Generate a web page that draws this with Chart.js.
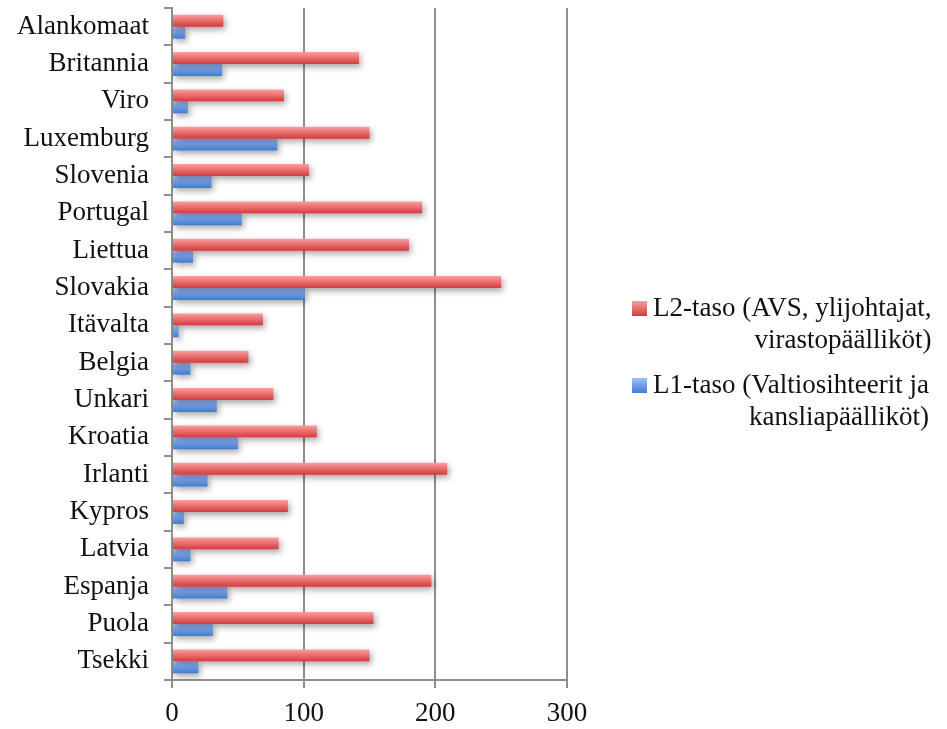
<!DOCTYPE html>
<html>
<head>
<meta charset="utf-8">
<script src="https://cdn.jsdelivr.net/npm/chart.js@4"></script>
<style>
  html, body { margin: 0; padding: 0; background: #ffffff; }
  #wrap { position: relative; width: 947px; height: 729px; }
  #chart { position: absolute; left: 0; top: 0; }
  #legend { position: absolute; left: 632px; top: 291px; font-family: "Liberation Serif", serif; font-size: 27px; color: #111; }
  .item { display: flex; align-items: flex-start; margin-bottom: 13px; }
  .swatch { width: 15px; height: 15px; margin-top: 10px; margin-right: 6px; flex: none; }
  .text { text-align: right; line-height: 32px; white-space: nowrap; }
</style>
</head>
<body>
<div id="wrap">
  <canvas id="chart" width="947" height="729"></canvas>
  <div id="legend"></div>
</div>
<script>
// Countries, listed top to bottom
const countries = ["Alankomaat", "Britannia", "Viro", "Luxemburg", "Slovenia", "Portugal", "Liettua", "Slovakia", "Itävalta", "Belgia", "Unkari", "Kroatia", "Irlanti", "Kypros", "Latvia", "Espanja", "Puola", "Tsekki"];
// L2-taso: AVS, ylijohtajat, virastopäälliköt
const l2Values = [39, 142, 85, 150, 104, 190, 180, 250, 69, 58, 77, 110, 209, 88, 81, 197, 153, 150];
// L1-taso: valtiosihteerit ja kansliapäälliköt
const l1Values = [10, 38, 12, 80, 30, 53, 16, 101, 5, 14, 34, 50, 27, 9, 14, 42, 31, 20];
const l2Label = ["L2-taso (AVS, ylijohtajat,", "virastopäälliköt)"];
const l1Label = ["L1-taso (Valtiosihteerit ja", "kansliapäälliköt)"];
const xTicks = [0, 100, 200, 300];

const palette = [
  { light: "#ff9e9e", dark: "#d03c3c" },
  { light: "#9cc2fc", dark: "#4379d0" }
];
const axisGray = "#8e8e8e";
const font = { family: "'Liberation Serif', serif", size: 27 };

// Per-bar vertical gradient, applied once the bars have their positions
const gradientPlugin = {
  id: "barGradient",
  afterDatasetsUpdate(chart) {
    const ctx = chart.ctx;
    chart.data.datasets.forEach((ds, di) => {
      const meta = chart.getDatasetMeta(di);
      const col = palette[di];
      meta.data.forEach(el => {
        const h = el.height || 12;
        const g = ctx.createLinearGradient(0, el.y - h / 2, 0, el.y + h / 2);
        g.addColorStop(0, col.light);
        g.addColorStop(1, col.dark);
        el.options = Object.assign({}, el.options, { backgroundColor: g });
      });
    });
  }
};

// Soft drop shadow under the bars
const shadowPlugin = {
  id: "barShadow",
  beforeDatasetsDraw(chart) {
    const c = chart.ctx;
    c.save();
    c.shadowColor = "rgba(0,0,0,0.35)";
    c.shadowBlur = 6;
    c.shadowOffsetX = 2;
    c.shadowOffsetY = 3;
  },
  afterDatasetsDraw(chart) {
    chart.ctx.restore();
  }
};

const chart = new Chart(document.getElementById("chart"), {
  type: "bar",
  data: {
    labels: countries,
    datasets: [
      { label: l2Label.join(" "), data: l2Values, backgroundColor: palette[0].dark },
      { label: l1Label.join(" "), data: l1Values, backgroundColor: palette[1].dark }
    ]
  },
  options: {
    indexAxis: "y",
    responsive: false,
    animation: false,
    events: [],
    categoryPercentage: 0.64,
    barPercentage: 1.0,
    layout: { padding: { top: 8, right: 380, left: 0, bottom: 0 } },
    plugins: { legend: { display: false }, tooltip: { enabled: false } },
    scales: {
      x: {
        min: 0,
        max: 300,
        afterBuildTicks(scale) { scale.ticks = xTicks.map(v => ({ value: v })); },
        afterFit(scale) { scale.height = 49; scale.paddingLeft = 0; scale.paddingRight = 0; },
        grid: { color: axisGray, lineWidth: 2, tickLength: 8, drawTicks: true },
        border: { color: axisGray, width: 2 },
        ticks: { font: font, color: "#111", padding: 10, maxRotation: 0 }
      },
      y: {
        afterFit(scale) { scale.width = 172; scale.paddingTop = 0; scale.paddingBottom = 0; },
        grid: { color: axisGray, lineWidth: 2, drawOnChartArea: false, tickLength: 8, offset: true },
        border: { color: axisGray, width: 2 },
        ticks: { font: font, color: "#111", padding: 15, autoSkip: false }
      }
    }
  },
  plugins: [gradientPlugin, shadowPlugin]
});

// Legend with wrapped, right-aligned labels
const legend = document.getElementById("legend");
[l2Label, l1Label].forEach((lines, i) => {
  const item = document.createElement("div");
  item.className = "item";
  const sw = document.createElement("div");
  sw.className = "swatch";
  sw.style.background = "linear-gradient(" + palette[i].light + ", " + palette[i].dark + ")";
  const txt = document.createElement("div");
  txt.className = "text";
  lines.forEach(line => {
    const d = document.createElement("div");
    d.textContent = line;
    txt.appendChild(d);
  });
  item.appendChild(sw);
  item.appendChild(txt);
  legend.appendChild(item);
});
</script>
</body>
</html>
